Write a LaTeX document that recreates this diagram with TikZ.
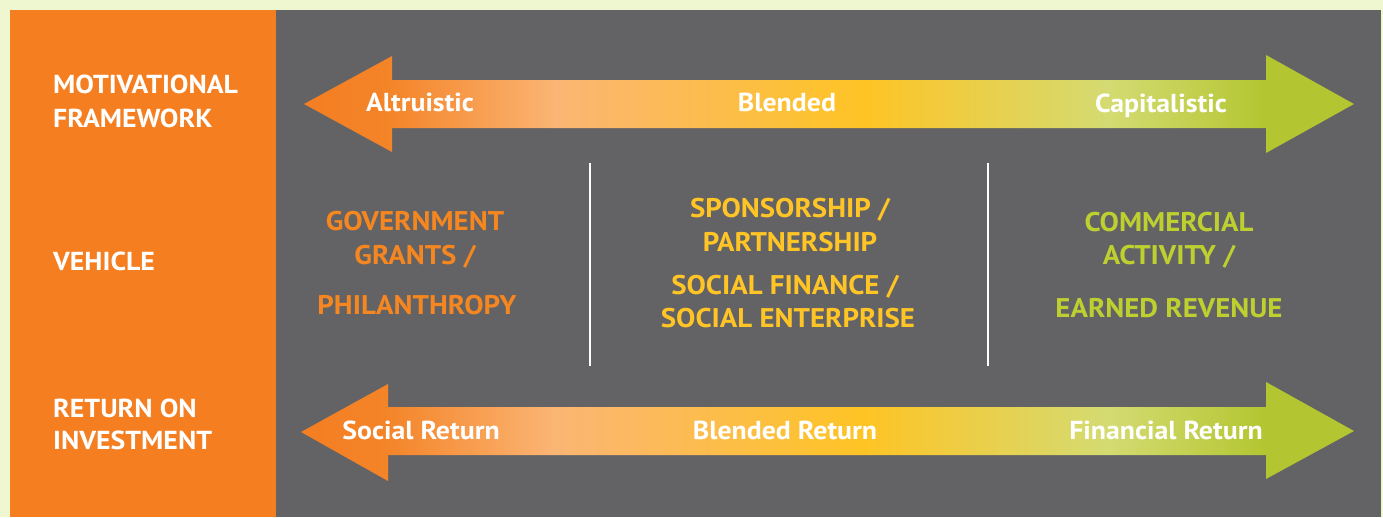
\documentclass[tikz,border=0pt]{standalone}
\usepackage{fontspec}
\setmainfont[FakeStretch=1.07]{PT Sans}
\definecolor{pagebg}{HTML}{EEF7D0}
\definecolor{panelorange}{HTML}{F47E20}
\definecolor{panelgray}{HTML}{636365}
\definecolor{txtorange}{HTML}{F6861F}
\definecolor{txtyellow}{HTML}{FFC425}
\definecolor{txtgreen}{HTML}{BDD030}
\definecolor{gA}{HTML}{F47E22}
\definecolor{gB}{HTML}{F48428}
\definecolor{gC}{HTML}{FBB574}
\definecolor{gD}{HTML}{FEC425}
\definecolor{gE}{HTML}{D4DB72}
\definecolor{gF}{HTML}{B3C631}
% orange -> peach -> yellow -> pale lime -> green, across the arrow's width
\pgfdeclarehorizontalshading{spectrum}{100bp}{%
  color(0bp)=(gA); color(25bp)=(gA); color(29bp)=(gB); color(37bp)=(gC);
  color(51.7bp)=(gD); color(63.3bp)=(gE); color(70.8bp)=(gF);
  color(75bp)=(gF); color(100bp)=(gF)}
\tikzset{
  rowlabel/.style={anchor=base west, inner sep=0pt, text=white,
    font=\fontsize{26}{30}\selectfont\bfseries},
  arrowlabel/.style={anchor=base, inner sep=0pt, text=white,
    font=\fontsize{26}{30}\selectfont\bfseries},
  vehicle/.style={anchor=base, inner sep=0pt,
    font=\fontsize{27}{31}\selectfont\bfseries},
  divider/.style={draw=white, line width=2pt},
  bigarrow/.style={shading=spectrum, draw=none}
}
\begin{document}
\begin{tikzpicture}[x=1pt,y=-1pt]
\useasboundingbox (0,0) rectangle (1383,517);
% backdrop and the two panels
\fill[pagebg] (0,0) rectangle (1383,517);
\fill[panelgray] (276,10) rectangle (1381,517);
\fill[panelorange] (10,10) rectangle (276,517);

% row headings
\node[rowlabel] (mot1) at (53,93) {MOTIVATIONAL};
\node[rowlabel] (mot2) at (53,127) {FRAMEWORK};
\node[rowlabel] (veh) at (53,270) {VEHICLE};
\node[rowlabel] (roi1) at (53,417) {RETURN ON};
\node[rowlabel] (roi2) at (53,449) {INVESTMENT};

% motivational framework double arrow
\path[bigarrow] (304,104) -- (392,56) -- (392,80) -- (1266,80) -- (1266,55)
  -- (1354,104) -- (1266,153) -- (1266,128) -- (392,128) -- (392,152) -- cycle;
\node[arrowlabel] (alt) at (420,111) {Altruistic};
\node[arrowlabel] (blend) at (787,111) {Blended};
\node[arrowlabel] (cap) at (1161,112) {Capitalistic};

% return on investment double arrow
\path[bigarrow] (301,432) -- (388,384) -- (388,407) -- (1266,407) -- (1266,382)
  -- (1354,431) -- (1266,479) -- (1266,455) -- (388,455) -- (388,481) -- cycle;
\node[arrowlabel] (soc) at (421,439) {Social Return};
\node[arrowlabel] (blr) at (785,439) {Blended Return};
\node[arrowlabel] (fin) at (1166,439) {Financial Return};

% column dividers
\coordinate (d1t) at (590,163);
\coordinate (d1b) at (590,366);
\coordinate (d2t) at (988,163);
\coordinate (d2b) at (988,366);
\draw[divider] (d1t) -- (d1b);
\draw[divider] (d2t) -- (d2b);

% vehicles
\node[vehicle, text=txtorange] (gov1) at (415,230) {GOVERNMENT};
\node[vehicle, text=txtorange] (gov2) at (415,264) {GRANTS /};
\node[vehicle, text=txtorange] (gov3) at (417,314) {PHILANTHROPY};

\node[vehicle, text=txtyellow] (sp1) at (790,217) {SPONSORSHIP /};
\node[vehicle, text=txtyellow] (sp2) at (790,251) {PARTNERSHIP};
\node[vehicle, text=txtyellow] (sf1) at (785,294) {SOCIAL FINANCE /};
\node[vehicle, text=txtyellow] (sf2) at (788,327) {SOCIAL ENTERPRISE};

\node[vehicle, text=txtgreen] (com1) at (1169,231) {COMMERCIAL};
\node[vehicle, text=txtgreen] (com2) at (1169,264) {ACTIVITY /};
\node[vehicle, text=txtgreen] (com3) at (1169,317) {EARNED REVENUE};
\end{tikzpicture}
\end{document}
